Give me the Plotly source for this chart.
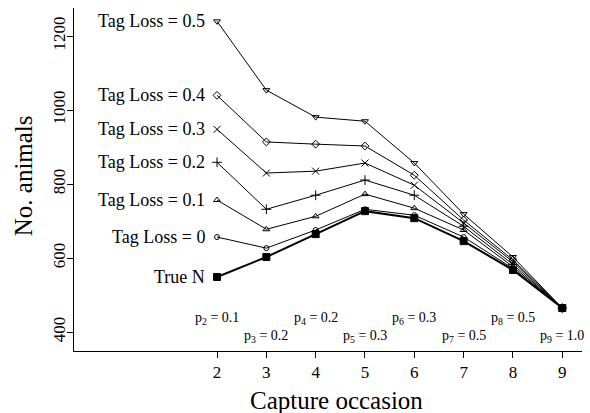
import plotly.graph_objects as go

occasions = [2, 3, 4, 5, 6, 7, 8, 9]
tag_loss_05 = [1240, 1054, 981, 970, 857, 719, 603, 465]
tag_loss_04 = [1040, 914, 908, 903, 824, 703, 595, 465]
tag_loss_03 = [948, 830, 835, 857, 797, 695, 590, 465]
tag_loss_02 = [859, 732, 770, 811, 770, 686, 583, 465]
tag_loss_01 = [757, 678, 713, 773, 735, 676, 577, 465]
tag_loss_00 = [657, 627, 676, 732, 716, 657, 572, 465]
true_n = [549, 603, 665, 727, 708, 646, 568, 465]

series_labels = ["Tag Loss = 0.5", "Tag Loss = 0.4", "Tag Loss = 0.3",
                 "Tag Loss = 0.2", "Tag Loss = 0.1", "Tag Loss = 0", "True N"]
p_values = ["0.1", "0.2", "0.2", "0.3", "0.3", "0.5", "0.5", "1.0"]
y_ticks = [400, 600, 800, 1000, 1200]

FONT = "Liberation Serif"
series = [tag_loss_05, tag_loss_04, tag_loss_03, tag_loss_02, tag_loss_01, tag_loss_00, true_n]
symbols = ["triangle-down-open", "diamond-open", "x-thin-open", "cross-thin-open",
           "triangle-up-open", "circle-open", "square"]
sizes = [6, 6, 7, 7, 6, 5, 7]

fig = go.Figure()
for vals, sym, sz, lab in zip(series, symbols, sizes, series_labels):
    bold = lab == "True N"
    fig.add_trace(go.Scatter(
        x=occasions, y=vals, mode="lines+markers",
        line=dict(color="black", width=2 if bold else 1),
        marker=dict(symbol=sym, size=sz, color="black",
                    line=dict(color="black", width=1)),
        showlegend=False))
    fig.add_annotation(x=occasions[0], y=vals[0], xref="x", yref="y",
                       text=lab, showarrow=False, xanchor="right", xshift=-10,
                       font=dict(family=FONT, size=18, color="black"))

for i, (xo, pv) in enumerate(zip(occasions, p_values)):
    fig.add_annotation(x=xo, y=438 if i % 2 == 0 else 387, xref="x", yref="y",
                       text=f"p<sub>{xo}</sub> = {pv}", showarrow=False,
                       xanchor="center", font=dict(family=FONT, size=14, color="black"))

fig.add_annotation(x=0.516, y=-0.143, xref="paper", yref="paper", text="Capture occasion",
                   showarrow=False, xanchor="center", yanchor="middle",
                   font=dict(family=FONT, size=25, color="black"))
fig.add_annotation(x=-0.1, y=0.51, xref="paper", yref="paper", text="No. animals",
                   showarrow=False, xanchor="center", yanchor="middle", textangle=-90,
                   font=dict(family=FONT, size=25, color="black"))

fig.update_layout(
    width=590, height=413, margin=dict(l=74, r=8, t=8, b=62),
    paper_bgcolor="white", plot_bgcolor="white",
    font=dict(family=FONT, color="black"),
    xaxis=dict(range=[-0.9, 9.4], tickvals=occasions, showgrid=False, zeroline=False,
               showline=True, linecolor="black", linewidth=1, ticks="outside",
               ticklen=6, tickcolor="black", tickfont=dict(family=FONT, size=17)),
    yaxis=dict(range=[349, 1276], tickvals=y_ticks, showgrid=False, zeroline=False,
               showline=True, linecolor="black", linewidth=1, ticks="outside",
               ticklen=6, tickcolor="black", tickangle=-90, ticklabelstandoff=-5,
               tickfont=dict(family=FONT, size=17)),
)
fig.write_html("out.html")
